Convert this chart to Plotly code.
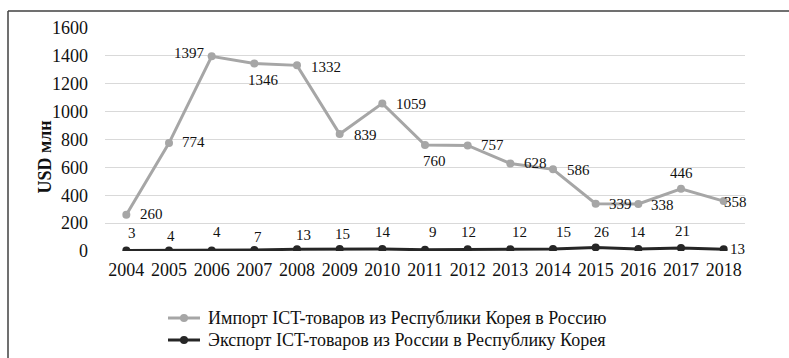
import plotly.graph_objects as go

years = [str(y) for y in range(2004, 2019)]
import_vals = [260, 774, 1397, 1346, 1332, 839, 1059, 760, 757, 628, 586, 339, 338, 446, 358]
export_vals = [3, 4, 4, 7, 13, 15, 14, 9, 12, 12, 15, 26, 14, 21, 13]
y_ticks = [0, 200, 400, 600, 800, 1000, 1200, 1400, 1600]

import_name = "Импорт ICT-товаров из Республики Корея в Россию"
export_name = "Экспорт ICT-товаров из России в Республику Корея"
y_title = "USD млн"

FONT = "Liberation Serif"
GREY = "#a6a6a6"
DARK = "#262626"
TXT = "#111111"

# label offsets in pixels (dx, dy) for each point's value label
imp_off = [(25, -1), (24, -1), (-22, -3), (9, 17), (29, 2), (26, 1), (29, 1), (9, 16),
           (25, 0), (25, 0), (25, 1), (25, 0), (24, 1), (0, -16), (12, 1)]
exp_off = [(6, -18), (2, -14), (5, -18), (4, -13), (6, -14), (3, -15), (1, -17), (8, -18),
           (1, -17), (9, -17), (10, -17), (6, -15), (0, -17), (1, -17), (14, 0)]

series = [
    (import_name, import_vals, GREY, imp_off),
    (export_name, export_vals, DARK, exp_off),
]

fig = go.Figure()
for name, vals, color, _ in series:
    fig.add_trace(go.Scatter(
        x=years, y=vals, name=name, mode="lines+markers",
        line=dict(color=color, width=3), marker=dict(color=color, size=8),
        showlegend=False,
    ))

# value labels: category axis positions are given by category index
annotations = []
for name, vals, color, offs in series:
    for i, (v, (dx, dy)) in enumerate(zip(vals, offs)):
        annotations.append(dict(x=i, y=v, xref="x", yref="y", text=str(v), showarrow=False,
                                xshift=dx, yshift=-dy,
                                font=dict(family=FONT, size=15, color=TXT)))

# layout geometry: the paper spans the full height below the top margin,
# and the y-axis domain leaves room underneath for tick labels and the key
W, H = 789, 358
L, R, T = 105, 44, 28
PLOT_BOTTOM = 251
pw, ph = W - L - R, H - T


def px(x):
    return (x - L) / pw


def py(y):
    return (H - y) / ph


# rotated y-axis title
annotations.append(dict(x=px(44.5), y=py(157), xref="paper", yref="paper",
                        text=f"<b>{y_title}</b>", textangle=-90, showarrow=False,
                        xanchor="center", yanchor="middle",
                        font=dict(family=FONT, size=18, color=TXT)))

# frame around the chart (left and top edges visible)
shapes = [
    dict(type="line", xref="paper", yref="paper", x0=px(8), x1=px(W + 5), y0=py(11), y1=py(11),
         line=dict(color="#404040", width=1.5)),
    dict(type="line", xref="paper", yref="paper", x0=px(8), x1=px(8), y0=py(11), y1=py(H + 5),
         line=dict(color="#404040", width=1.5)),
]

# key below the chart: line sample with a dot, followed by the series name
for (name, vals, color, _), row_y in zip(series, [318, 340]):
    shapes.append(dict(type="line", xref="paper", yref="paper",
                       x0=px(168), x1=px(200), y0=py(row_y), y1=py(row_y),
                       line=dict(color=color, width=3)))
    shapes.append(dict(type="circle", xref="paper", yref="paper",
                       xsizemode="pixel", ysizemode="pixel",
                       xanchor=px(184), yanchor=py(row_y), x0=-4, x1=4, y0=-4, y1=4,
                       fillcolor=color, line=dict(color=color, width=0)))
    annotations.append(dict(x=px(206), y=py(row_y), xref="paper", yref="paper",
                            text=name, showarrow=False, xanchor="left", yanchor="middle",
                            font=dict(family=FONT, size=18, color=TXT)))

fig.update_layout(
    width=W, height=H,
    margin=dict(l=L, r=R, t=T, b=0, autoexpand=False),
    paper_bgcolor="white", plot_bgcolor="white",
    font=dict(family=FONT, size=18, color=TXT),
    showlegend=False,
    xaxis=dict(type="category", range=[-0.5, 14.5], showgrid=False, zeroline=False,
               showline=False, ticks="", ticklabelstandoff=6, tickangle=0, automargin=False,
               tickfont=dict(family=FONT, size=18, color=TXT)),
    yaxis=dict(domain=[py(PLOT_BOTTOM), 1], range=[0, 1600], tickvals=y_ticks,
               showgrid=True, gridcolor="#d9d9d9", gridwidth=1, zeroline=False,
               showline=False, ticks="", ticklabelstandoff=16, automargin=False,
               tickfont=dict(family=FONT, size=18, color=TXT)),
    annotations=annotations,
    shapes=shapes,
)

fig.write_html("out.html")
